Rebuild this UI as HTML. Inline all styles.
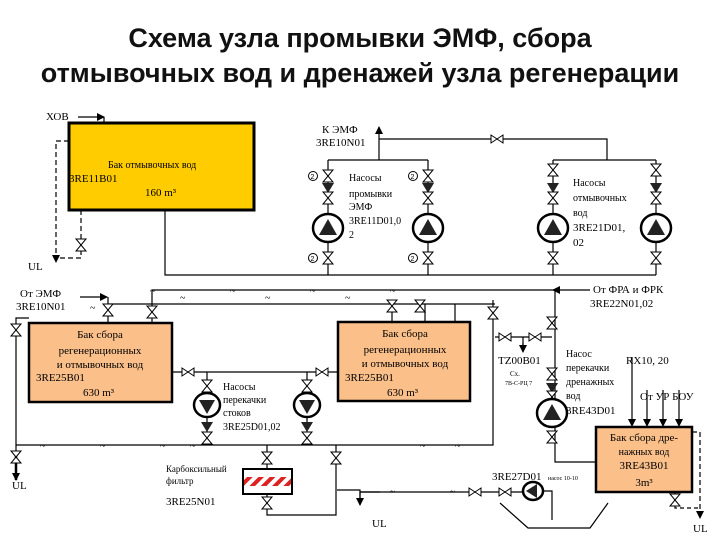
<!DOCTYPE html>
<html><head><meta charset="utf-8"><style>
body{margin:0;background:#fff}
svg{display:block}
.t{font-family:"Liberation Serif",serif;font-size:11px;fill:#000}
.h{font-family:"Liberation Sans",sans-serif;font-size:27px;font-weight:bold;fill:#111}
</style></head><body>
<svg width="720" height="540" viewBox="0 0 720 540" xmlns="http://www.w3.org/2000/svg">
<defs>
<path id="vv" d="M-5,-6 L5,-6 L-5,6 L5,6 Z" fill="#fff" stroke="#000" stroke-width="1"/>
<path id="hv" d="M-6,-4 L-6,4 L6,-4 L6,4 Z" fill="#fff" stroke="#000" stroke-width="1"/>
<g id="ck"><path d="M-6,-5 L6,-5 L0,5 Z" fill="#222"/></g>
<g id="pu"><ellipse rx="15" ry="14" fill="#fff" stroke="#000" stroke-width="2.5"/><path d="M-9,7 L9,7 L0,-9 Z" fill="#222"/></g>
<g id="pd"><ellipse rx="13" ry="12" fill="#fff" stroke="#000" stroke-width="2.5"/><path d="M-8,-5 L8,-5 L0,9 Z" fill="#222"/></g>
<g id="c2"><circle r="4.5" fill="#fff" stroke="#000"/><text x="-2.5" y="3" style="font-family:Liberation Sans;font-size:7px">2</text></g>
<marker id="ar" markerWidth="8" markerHeight="8" refX="7" refY="4" orient="auto" markerUnits="userSpaceOnUse"><path d="M0,0 L8,4 L0,8 Z" fill="#000"/></marker>
<pattern id="hat" width="8" height="8" patternUnits="userSpaceOnUse" patternTransform="rotate(45)"><rect width="8" height="8" fill="#fff"/><rect width="4" height="8" fill="#d22"/></pattern>
</defs>
<text class="h" x="360" y="47" text-anchor="middle">Схема узла промывки ЭМФ, сбора</text>
<text class="h" x="360" y="82" text-anchor="middle">отмывочных вод и дренажей узла регенерации</text>

<g stroke="#000" stroke-width="1.2" fill="none">
<path d="M78,117 H104" marker-end="url(#ar)"/>
<path d="M104,117 V123"/>
<path d="M69,141 H56 V262" stroke-dasharray="5,3" marker-end="url(#ar)"/>
<path d="M81,210 V258 H56" stroke-dasharray="5,3"/>
<path d="M165,210 V275 H656"/>
<path d="M328,160 H428 M379,160 V128" />
<path d="M379,133 V127" marker-end="url(#ar)"/>
<path d="M379,139 H607 V160 M553,160 H656"/>
<path d="M328,160 V275 M428,160 V275 M553,160 V275 M656,160 V275"/>
<path d="M80,297 H107" marker-end="url(#ar)"/>
<path d="M108,297 V304 M152,290 H555 M152,290 V323"/>
<path d="M108,304 V323 M108,304 H495"/>
<path d="M29,318 H16 V470"/>
<path d="M16,455 V480" stroke-width="2.5" marker-end="url(#ar)"/>
<path d="M590,290 H553" marker-end="url(#ar)"/>
<path d="M555,290 V462 H596"/>
<path d="M392,304 V322 M425,304 V322 M455,304 V322"/>
<path d="M173,372 H338 M207,372 V445 M307,372 V445"/>
<path d="M16,445 H493 V300"/>
<path d="M495,337 H552 M523,337 V350" />
<path d="M523,343 V352" marker-end="url(#ar)"/>
<path d="M267,445 V469 M267,494 V515 H336 V445"/>
<path d="M337,490 H360 V500" />
<path d="M380,492 H360 V505" marker-end="url(#ar)"/>
<path d="M360,492 H525"/>
<path d="M543,491 H552 V520"/>
<path d="M500,503 L528,528 H590 L608,503"/>
<path d="M632,357 V426" marker-end="url(#ar)"/>
<path d="M647,390 V426" marker-end="url(#ar)"/>
<path d="M663,390 V426" marker-end="url(#ar)"/>
<path d="M679,390 V426" marker-end="url(#ar)"/>
<path d="M692,432 H700 V518" stroke-dasharray="5,3" marker-end="url(#ar)"/>
<path d="M675,492 V508 H700" stroke-dasharray="4,3"/>
</g>
<g class="t" style="font-size:10px">
<text x="150" y="294">~</text><text x="230" y="294">~</text><text x="310" y="294">~</text><text x="390" y="294">~</text><text x="180" y="301">~</text><text x="265" y="301">~</text><text x="345" y="301">~</text><text x="90" y="311">~</text>
<text x="40" y="449">~</text><text x="100" y="449">~</text><text x="160" y="449">~</text><text x="190" y="449">~</text><text x="420" y="449">~</text><text x="455" y="449">~</text>
<text x="390" y="495">~</text><text x="450" y="495">~</text>
</g>

<rect x="69" y="123" width="185" height="87" fill="#FFCC00" stroke="#000" stroke-width="3"/>
<rect x="29" y="323" width="143" height="79" fill="#FBC08A" stroke="#000" stroke-width="2.5"/>
<rect x="338" y="322" width="132" height="79" fill="#FBC08A" stroke="#000" stroke-width="2.5"/>
<rect x="596" y="427" width="96" height="65" fill="#FBC08A" stroke="#000" stroke-width="2.5"/>
<rect x="243" y="469" width="49" height="25" fill="#fff" stroke="#000" stroke-width="2"/>
<rect x="244" y="477" width="47" height="9" fill="url(#hat)"/>

<use href="#vv" x="81" y="245"/>
<g>
<use href="#vv" x="328" y="176"/><use href="#ck" x="328" y="188"/><use href="#vv" x="328" y="198"/><use href="#pu" x="328" y="228"/><use href="#vv" x="328" y="258"/>
<use href="#vv" x="428" y="176"/><use href="#ck" x="428" y="188"/><use href="#vv" x="428" y="198"/><use href="#pu" x="428" y="228"/><use href="#vv" x="428" y="258"/>
<use href="#vv" x="553" y="170"/><use href="#ck" x="553" y="188"/><use href="#vv" x="553" y="198"/><use href="#pu" x="553" y="228"/><use href="#vv" x="553" y="258"/>
<use href="#vv" x="656" y="170"/><use href="#ck" x="656" y="188"/><use href="#vv" x="656" y="198"/><use href="#pu" x="656" y="228"/><use href="#vv" x="656" y="258"/>
<use href="#c2" x="313" y="176"/><use href="#c2" x="313" y="258"/><use href="#c2" x="413" y="176"/><use href="#c2" x="413" y="258"/>
<use href="#hv" x="497" y="139"/>
<use href="#vv" x="108" y="310"/><use href="#vv" x="152" y="312"/><use href="#vv" x="16" y="330"/>
<use href="#vv" x="392" y="306"/><use href="#vv" x="420" y="306"/><use href="#vv" x="493" y="313"/><use href="#vv" x="552" y="323"/>
<use href="#hv" x="188" y="372"/><use href="#hv" x="322" y="372"/>
<use href="#vv" x="207" y="386"/><use href="#pd" x="207" y="405"/><use href="#ck" x="207" y="427"/><use href="#vv" x="207" y="438"/>
<use href="#vv" x="307" y="386"/><use href="#pd" x="307" y="405"/><use href="#ck" x="307" y="427"/><use href="#vv" x="307" y="438"/>
<use href="#vv" x="16" y="457"/><use href="#vv" x="267" y="458"/><use href="#vv" x="267" y="503"/><use href="#vv" x="336" y="458"/>
<use href="#hv" x="505" y="337"/><use href="#hv" x="535" y="337"/>
<use href="#vv" x="552" y="374"/><use href="#ck" x="552" y="388"/><use href="#vv" x="552" y="397"/><use href="#pu" x="552" y="413"/><use href="#vv" x="552" y="437"/>
<use href="#hv" x="475" y="492"/><use href="#hv" x="505" y="492"/>
<ellipse cx="533" cy="491" rx="10" ry="9" fill="#fff" stroke="#000" stroke-width="2.5"/><path d="M526,491 L537,484 L537,498 Z" fill="#222"/>
<use href="#vv" x="675" y="500"/>
</g>

<g class="t">
<text x="46" y="120">ХОВ</text>
<text x="322" y="133">К ЭМФ</text><text x="316" y="146">3RE10N01</text>
<text x="108" y="168" style="font-size:10px">Бак отмывочных вод</text>
<text x="69" y="182">3RE11B01</text>
<text x="145" y="196">160 m³</text>
<text x="28" y="270">UL</text>
<text x="349" y="181" style="font-size:10px">Насосы</text><text x="349" y="197" style="font-size:10px">промывки</text><text x="349" y="210" style="font-size:10px">ЭМФ</text><text x="349" y="224" style="font-size:10px">3RE11D01,0</text><text x="349" y="238" style="font-size:10px">2</text>
<text x="573" y="186" style="font-size:10px">Насосы</text><text x="573" y="201" style="font-size:10px">отмывочных</text><text x="573" y="216" style="font-size:10px">вод</text><text x="573" y="231">3RE21D01,</text><text x="573" y="246">02</text>
<text x="20" y="297">От ЭМФ</text><text x="16" y="310">3RE10N01</text>
<text x="593" y="293">От ФРА и ФРК</text><text x="590" y="307">3RE22N01,02</text>
<text x="100" y="338" text-anchor="middle">Бак сбора</text><text x="100" y="354" text-anchor="middle">регенерационных</text><text x="100" y="368" text-anchor="middle">и отмывочных вод</text><text x="36" y="381">3RE25B01</text><text x="83" y="396">630 m³</text>
<text x="405" y="337" text-anchor="middle">Бак сбора</text><text x="405" y="353" text-anchor="middle">регенерационных</text><text x="405" y="367" text-anchor="middle">и отмывочных вод</text><text x="345" y="381">3RE25B01</text><text x="387" y="396">630 m³</text>
<text x="223" y="390" style="font-size:10px">Насосы</text><text x="223" y="403" style="font-size:10px">перекачки</text><text x="223" y="416" style="font-size:10px">стоков</text><text x="223" y="430" style="font-size:10px">3RE25D01,02</text>
<text x="12" y="489">UL</text>
<text x="166" y="472" style="font-size:9px">Карбоксильный</text><text x="166" y="484" style="font-size:9px">фильтр</text>
<text x="166" y="505">3RE25N01</text>
<text x="372" y="527">UL</text>
<text x="498" y="364">TZ00B01</text>
<text x="510" y="376" style="font-size:7px">Сх.</text><text x="505" y="385" style="font-size:6px">7В-С-РЦ 7</text>
<text x="566" y="357" style="font-size:10px">Насос</text><text x="566" y="371" style="font-size:10px">перекачки</text><text x="566" y="385" style="font-size:10px">дренажных</text><text x="566" y="399" style="font-size:10px">вод</text><text x="566" y="414">3RE43D01</text>
<text x="626" y="364">RX10, 20</text>
<text x="640" y="400">От УР БОУ</text>
<text x="644" y="441" text-anchor="middle">Бак сбора дре-</text><text x="644" y="455" text-anchor="middle" style="font-size:10px">нажных вод</text><text x="644" y="469" text-anchor="middle">3RE43B01</text><text x="644" y="486" text-anchor="middle">3m³</text>
<text x="492" y="480">3RE27D01</text><text x="548" y="480" style="font-size:6px">насос 10-10</text>
<text x="693" y="532">UL</text>
</g>
</svg>
</body></html>
